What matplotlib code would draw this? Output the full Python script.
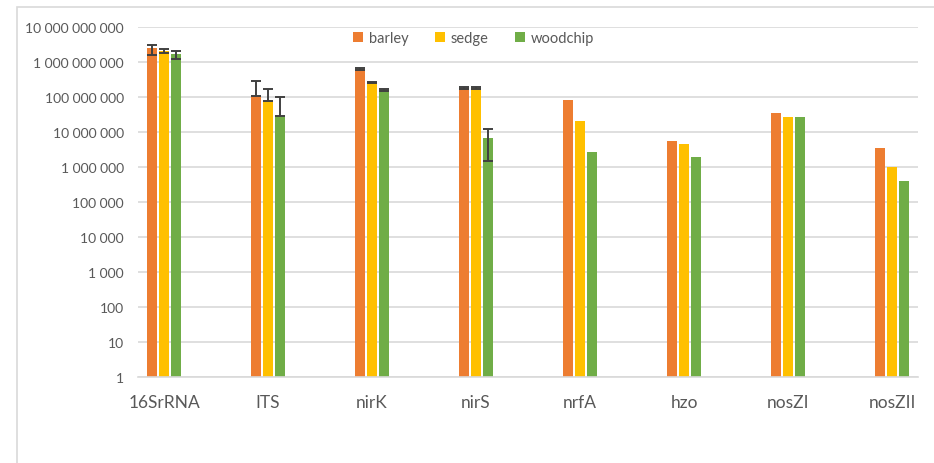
import matplotlib
matplotlib.use('Agg')
import matplotlib.pyplot as plt
import numpy as np
from matplotlib.patches import Rectangle
from matplotlib.ticker import FixedLocator, FuncFormatter, NullLocator

plt.rcParams['font.family'] = ['Lato', 'DejaVu Sans']

genes = ['16SrRNA', 'ITS', 'nirK', 'nirS', 'nrfA', 'hzo', 'nosZI', 'nosZII']
substrates = ['barley', 'sedge', 'woodchip']
colors = ['#ED7D31', '#FFC000', '#70AD47']

# gene copies per substrate
barley = [2.5e9, 1.1e8, 6.3e8, 1.8e8, 8.3e7, 5.6e6, 3.4e7, 3.5e6]
sedge = [2.05e9, 7.8e7, 2.6e8, 1.8e8, 2.0e7, 4.4e6, 2.6e7, 9.8e5]
woodchip = [1.7e9, 2.9e7, 1.6e8, 6.6e6, 2.7e6, 1.9e6, 2.6e7, 4.1e5]

# error bar ends (lower, upper); None = no error bar
barley_err = [(1.6e9, 3.1e9), (1.1e8, 2.8e8), (6.0e8, 6.7e8), (1.7e8, 1.9e8),
              None, None, None, None]
sedge_err = [(1.75e9, 2.4e9), (7.8e7, 1.7e8), (2.45e8, 2.75e8), (1.7e8, 1.9e8),
             None, None, None, None]
woodchip_err = [(1.25e9, 2.05e9), (2.9e7, 9.8e7), (1.5e8, 1.7e8), (1.5e6, 1.2e7),
                None, None, None, None]

series = [barley, sedge, woodchip]
errors = [barley_err, sedge_err, woodchip_err]

fig = plt.figure(figsize=(9.34, 4.64), dpi=100)
fig.patches.append(Rectangle((17 / 934, -0.1), 1.2, 1 - 8 / 464 + 0.1,
                             transform=fig.transFigure, fill=False,
                             edgecolor='#d9d9d9', lw=1.2))

ax = fig.add_axes([138 / 934, 1 - 378 / 464, 780 / 934, 350 / 464])
x = np.arange(len(genes))
width = 0.09
step = 0.115

for i, (vals, errs, col, name) in enumerate(zip(series, errors, colors, substrates)):
    pos = x + (i - 1) * step
    ax.bar(pos, vals, width=width, color=col, label=name, zorder=2)
    for p, v, e in zip(pos, vals, errs):
        if e is None:
            continue
        lo, hi = e
        ax.errorbar(p, v, yerr=[[v - lo], [hi - v]], fmt='none',
                    ecolor='#404040', elinewidth=1.4, capsize=3.5,
                    capthick=1.4, zorder=3)

ax.set_yscale('log')
ax.set_ylim(1, 1e10)
ax.set_xlim(-0.25, 7.25)
ax.yaxis.set_major_locator(FixedLocator([10 ** k for k in range(11)]))
ax.yaxis.set_minor_locator(NullLocator())
ax.yaxis.set_major_formatter(FuncFormatter(lambda v, _: f'{int(round(v)):,}'.replace(',', ' ')))
ax.set_xticks(x)
ax.set_xticklabels(genes)

ax.grid(axis='y', color='#d9d9d9', lw=1.2, zorder=0)
ax.set_axisbelow(True)
for s in ['top', 'right', 'left']:
    ax.spines[s].set_visible(False)
ax.spines['bottom'].set_color('#d9d9d9')
ax.spines['bottom'].set_linewidth(1.2)

ax.tick_params(axis='y', length=0, pad=10, labelsize=10, labelcolor='#595959')
ax.tick_params(axis='x', length=0, pad=12, labelsize=12.5, labelcolor='#595959')

ax.legend(loc='upper center', bbox_to_anchor=(0.43, 1.025), ncol=3, frameon=False,
          fontsize=10.5, handlelength=0.7, handleheight=0.7, handletextpad=0.4,
          columnspacing=1.8, labelcolor='#595959')

fig.savefig('out.png', dpi=100)
